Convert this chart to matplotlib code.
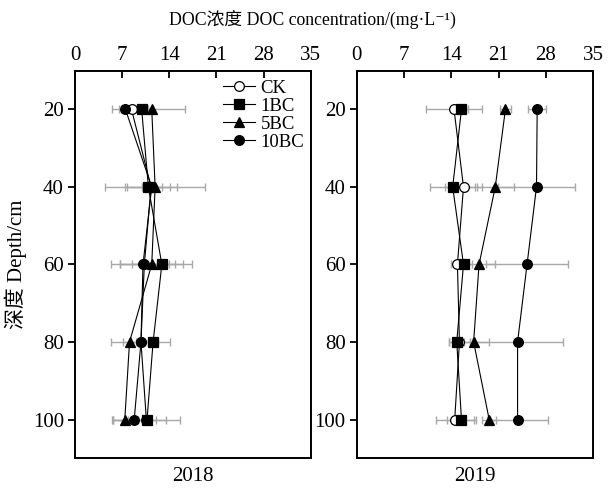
import matplotlib
matplotlib.use("Agg")
import matplotlib.pyplot as plt

plt.rcParams['font.family'] = ['Liberation Serif', 'Noto Sans CJK SC', 'DejaVu Serif']
plt.rcParams['axes.unicode_minus'] = False

depth = [20, 40, 60, 80, 100]
labels = ['CK', '1BC', '5BC', '10BC']
years = ['2018', '2019']

# DOC means (mg/L) per treatment, 2018
ck_18 = [8.4, 11.3, 10.3, 9.8, 10.6]
bc1_18 = [9.9, 10.9, 12.9, 11.6, 10.7]
bc5_18 = [11.4, 11.9, 11.4, 8.1, 7.4]
bc10_18 = [7.5, 11.4, 10.1, 9.8, 8.8]
ck_18_err = [1.5, 3.8, 3.6, 1.5, 5.0]
bc1_18_err = [1.0, 3.2, 4.5, 2.5, 2.8]
bc5_18_err = [4.9, 7.4, 4.7, 2.8, 1.9]
bc10_18_err = [2.0, 1.5, 4.8, 2.6, 3.2]

# DOC means (mg/L) per treatment, 2019
ck_19 = [14.4, 15.8, 14.9, 15.2, 14.5]
bc1_19 = [15.5, 14.2, 15.8, 14.8, 15.5]
bc5_19 = [22.0, 20.5, 18.1, 17.3, 19.6]
bc10_19 = [26.7, 26.6, 25.2, 23.8, 23.8]
ck_19_err = [4.1, 2.7, 1.0, 1.5, 2.8]
bc1_19_err = [1.0, 3.3, 1.2, 1.1, 2.2]
bc5_19_err = [0.8, 2.7, 2.4, 2.3, 1.0]
bc10_19_err = [1.3, 5.7, 6.0, 6.7, 4.5]

xticks = [0, 7, 14, 21, 28, 35]

styles = [dict(marker='o', mfc='white'), dict(marker='s', mfc='black'),
          dict(marker='^', mfc='black'), dict(marker='o', mfc='black')]

data = {
    '2018': ([ck_18, bc1_18, bc5_18, bc10_18], [ck_18_err, bc1_18_err, bc5_18_err, bc10_18_err]),
    '2019': ([ck_19, bc1_19, bc5_19, bc10_19], [ck_19_err, bc1_19_err, bc5_19_err, bc10_19_err]),
}

fig = plt.figure(figsize=(6.11, 4.88), dpi=100)
ax1 = fig.add_axes([0.1227, 0.0609, 0.3858, 0.7943])
ax2 = fig.add_axes([0.5838, 0.0609, 0.3872, 0.7943])

for ax, yr in zip([ax1, ax2], years):
    means, errs = data[yr]
    for m, e in zip(means, errs):
        ax.errorbar(m, depth, xerr=e, fmt='none', ecolor='#a8a8a8', elinewidth=1.0,
                    capsize=3, capthick=1.0, zorder=1)
    for m, lab, st in zip(means, labels, styles):
        ax.plot(m, depth, color='black', lw=0.8, ms=7, mec='black', mew=0.9,
                label=lab, zorder=3, **st)
    ax.set_xlim(0, 35)
    ax.set_ylim(110, 10)
    ax.set_xticks(xticks)
    ax.set_yticks(depth)
    ax.xaxis.tick_top()
    ax.tick_params(axis='x', direction='in', length=5, width=1.3, labelsize=15, pad=4)
    ax.tick_params(axis='y', direction='out', length=5, width=1.3, labelsize=15, pad=3)
    for sp in ax.spines.values():
        sp.set_linewidth(1.4)
    ax.set_xlabel(yr, fontsize=15, labelpad=6)

ax1.legend(loc='upper left', bbox_to_anchor=(0.58, 1.006), frameon=False, fontsize=13.5,
           handlelength=1.7, handletextpad=0.3, labelspacing=0.05, borderpad=0.1)

ax1.set_ylabel('深度 Depth/cm', fontsize=15, labelpad=4)
fig.text(0.512, 0.958, 'DOC浓度 DOC concentration/(mg·L⁻¹)', ha='center', va='center',
         fontsize=12.8)

fig.savefig('out.png', dpi=100)
